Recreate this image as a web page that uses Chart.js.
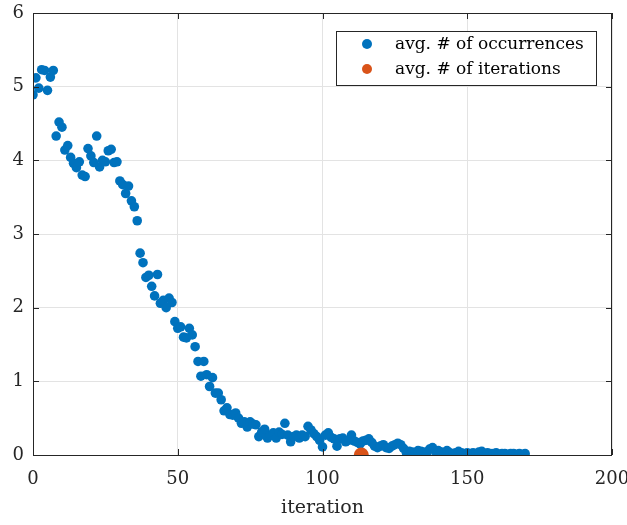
<!DOCTYPE html>
<html>
<head>
<meta charset="utf-8">
<script src="https://cdn.jsdelivr.net/npm/chart.js@4.4.1/dist/chart.umd.min.js"></script>
<style>
  html, body { margin: 0; padding: 0; background: #fff; }
  #wrap { width: 627px; height: 525px; }
</style>
</head>
<body>
<div id="wrap"><canvas id="chart"></canvas></div>
<script>
// avg. # of occurrences per iteration (iteration 0, 1, 2, ...)
const occurrences = [
  4.89, 5.12, 4.98, 5.23, 5.22, 4.95, 5.13, 5.22, 4.33, 4.52,
  4.45, 4.14, 4.20, 4.04, 3.96, 3.90, 3.98, 3.80, 3.78, 4.16,
  4.06, 3.97, 4.33, 3.91, 4.00, 3.98, 4.13, 4.15, 3.97, 3.98,
  3.72, 3.67, 3.55, 3.65, 3.45, 3.37, 3.18, 2.74, 2.61, 2.41,
  2.44, 2.29, 2.16, 2.45, 2.06, 2.10, 2.00, 2.13, 2.07, 1.81,
  1.72, 1.74, 1.60, 1.59, 1.72, 1.63, 1.47, 1.27, 1.07, 1.27,
  1.09, 0.93, 1.05, 0.84, 0.84, 0.75, 0.60, 0.64, 0.55, 0.54,
  0.57, 0.50, 0.43, 0.45, 0.38, 0.45, 0.42, 0.41, 0.25, 0.31,
  0.35, 0.23, 0.27, 0.30, 0.23, 0.31, 0.28, 0.43, 0.27, 0.18,
  0.25, 0.27, 0.23, 0.27, 0.25, 0.39, 0.34, 0.29, 0.25, 0.20,
  0.11, 0.27, 0.30, 0.24, 0.22, 0.12, 0.22, 0.23, 0.18, 0.20,
  0.27, 0.19, 0.17, 0.15, 0.19, 0.20, 0.22, 0.17, 0.12, 0.10,
  0.12, 0.14, 0.10, 0.09, 0.12, 0.14, 0.16, 0.14, 0.09, 0.03,
  0.05, 0.04, 0.03, 0.06, 0.05, 0.04, 0.01, 0.08, 0.10, 0.05,
  0.06, 0.04, 0.03, 0.06, 0.03, 0.02, 0.03, 0.05, 0.03, 0.02,
  0.03, 0.02, 0.03, 0.02, 0.04, 0.05, 0.02, 0.03, 0.02, 0.02,
  0.03, 0.01, 0.02, 0.02, 0.01, 0.02, 0.02, 0.01, 0.02, 0.01,
  0.02
];
// avg. # of iterations
const avgIterX = [113.4];
const avgIterY = [0];

const xTicks = [0, 50, 100, 150, 200];
const yTicks = [0, 1, 2, 3, 4, 5, 6];
const seriesLabels = ['avg. # of occurrences', 'avg. # of iterations'];
const seriesColors = ['#0072BD', '#D95319'];

const FONT = '"DejaVu Serif", "Liberation Serif", serif';
const AXIS = '#262626';

// 坐标框和向内的刻度线
const boxPlugin = {
  id: 'box',
  afterDraw(chart) {
    const {ctx, chartArea: a, scales} = chart;
    ctx.save();
    ctx.strokeStyle = AXIS;
    ctx.lineWidth = 1;
    ctx.strokeRect(a.left + 0.5, a.top + 0.5, a.right - a.left - 1, a.bottom - a.top);
    ctx.beginPath();
    const len = 6;
    xTicks.forEach(v => {
      const x = Math.round(scales.x.getPixelForValue(v)) + 0.5;
      ctx.moveTo(x, a.bottom); ctx.lineTo(x, a.bottom - len);
      ctx.moveTo(x, a.top); ctx.lineTo(x, a.top + len);
    });
    yTicks.forEach(v => {
      const y = Math.round(scales.y.getPixelForValue(v)) + 0.5;
      ctx.moveTo(a.left, y); ctx.lineTo(a.left + len, y);
      ctx.moveTo(a.right, y); ctx.lineTo(a.right - len, y);
    });
    ctx.stroke();
    ctx.restore();
  }
};

// 图例画在右上角
const legendPlugin = {
  id: 'boxLegend',
  afterDraw(chart) {
    const {ctx, chartArea: a} = chart;
    const w = 260, h = 54;
    const x0 = a.right - 16 - w, y0 = a.top + 18;
    ctx.save();
    ctx.fillStyle = '#fff';
    ctx.fillRect(x0, y0, w, h);
    ctx.strokeStyle = AXIS;
    ctx.lineWidth = 1;
    ctx.strokeRect(x0 + 0.5, y0 + 0.5, w, h);
    ctx.font = '17px ' + FONT;
    ctx.textBaseline = 'middle';
    seriesLabels.forEach((lab, i) => {
      const cy = y0 + 13 + i * 25;
      ctx.fillStyle = seriesColors[i];
      ctx.beginPath();
      ctx.arc(x0 + 31, cy, 5, 0, Math.PI * 2);
      ctx.fill();
      ctx.fillStyle = '#000';
      ctx.fillText(lab, x0 + 59, cy + 1);
    });
    ctx.restore();
  }
};

new Chart(document.getElementById('chart'), {
  type: 'scatter',
  data: {
    datasets: [
      {
        label: seriesLabels[0],
        data: occurrences.map((v, i) => ({x: i, y: v})),
        backgroundColor: seriesColors[0],
        borderWidth: 0,
        pointRadius: 4.8,
        order: 1
      },
      {
        label: seriesLabels[1],
        data: avgIterX.map((v, i) => ({x: v, y: avgIterY[i]})),
        backgroundColor: seriesColors[1],
        borderWidth: 0,
        pointRadius: 7.5,
        order: 0
      }
    ]
  },
  options: {
    responsive: true,
    maintainAspectRatio: false,
    animation: false,
    events: [],
    layout: { padding: { left: 0, right: 15, top: 13, bottom: 0 } },
    plugins: { legend: { display: false }, tooltip: { enabled: false } },
    scales: {
      x: {
        type: 'linear',
        min: 0, max: 200,
        afterBuildTicks: s => { s.ticks = xTicks.map(v => ({value: v})); },
        afterFit: s => { s.height = 70; s.paddingLeft = 0; s.paddingRight = 0; },
        grid: { color: '#e3e3e3', drawTicks: false },
        border: { display: false },
        ticks: { padding: 14, color: AXIS, font: { family: FONT, size: 18 }, maxRotation: 0 },
        title: { display: true, text: 'iteration', color: AXIS, font: { family: FONT, size: 19 }, padding: { top: 0, bottom: 6 } }
      },
      y: {
        min: 0, max: 6,
        afterBuildTicks: s => { s.ticks = yTicks.map(v => ({value: v})); },
        afterFit: s => { s.width = 33; s.paddingTop = 0; s.paddingBottom = 0; },
        grid: { color: '#e3e3e3', drawTicks: false },
        border: { display: false },
        ticks: { padding: 9, color: AXIS, font: { family: FONT, size: 18 } }
      }
    }
  },
  plugins: [boxPlugin, legendPlugin]
});
</script>
</body>
</html>
